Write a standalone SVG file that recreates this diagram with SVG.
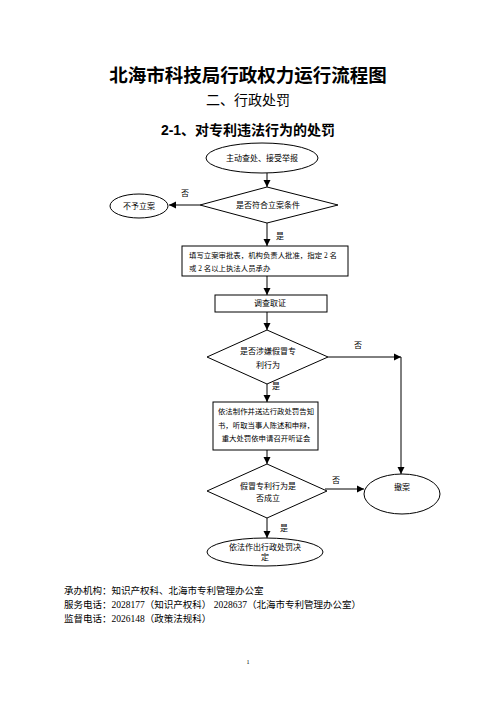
<svg xmlns="http://www.w3.org/2000/svg" width="496" height="702" viewBox="0 0 496 702">
<style>
.t{font-family:"Liberation Serif","Noto Sans CJK SC",serif;fill:#000}
.h{font-family:"Liberation Sans","Noto Sans CJK SC",sans-serif;font-weight:bold;fill:#000}
.s{font-size:8px}
.b{font-size:7.4px}
.f{font-size:9.5px}
.shape{fill:#fff;stroke:#000;stroke-width:1}
.ln{fill:none;stroke:#000;stroke-width:1}
</style>
<defs>
<marker id="ah" markerWidth="8" markerHeight="8" refX="7" refY="4" orient="auto" markerUnits="userSpaceOnUse">
<path d="M0,0.5 L7,4 L0,7.5 Z" fill="#000"/>
</marker>
</defs>
<rect width="496" height="702" fill="#fff"/>
<text class="h" x="248" y="82" font-size="18.5" text-anchor="middle">北海市科技局行政权力运行流程图</text>
<text class="t" x="248" y="105" font-size="14" text-anchor="middle">二、行政处罚</text>
<text class="h" x="248" y="135" font-size="14" text-anchor="middle">2-1、对专利违法行为的处罚</text>

<g id="connectors">
<line class="ln" x1="267" y1="173" x2="267" y2="187" marker-end="url(#ah)"/>
<line class="ln" x1="200" y1="205" x2="169" y2="205" marker-end="url(#ah)"/>
<line class="ln" x1="267" y1="223" x2="267" y2="246" marker-end="url(#ah)"/>
<line class="ln" x1="267" y1="276" x2="267" y2="295" marker-end="url(#ah)"/>
<line class="ln" x1="267" y1="312" x2="267" y2="330" marker-end="url(#ah)"/>
<line class="ln" x1="328" y1="357" x2="401" y2="357" marker-end="url(#ah)"/>
<line class="ln" x1="401" y1="357" x2="401" y2="474" marker-end="url(#ah)"/>
<line class="ln" x1="267" y1="384" x2="267" y2="402" marker-end="url(#ah)"/>
<line class="ln" x1="267" y1="450" x2="267" y2="464" marker-end="url(#ah)"/>
<line class="ln" x1="325" y1="489" x2="364" y2="489" marker-end="url(#ah)"/>
<line class="ln" x1="267" y1="518" x2="267" y2="538" marker-end="url(#ah)"/>
<text class="t s" x="181" y="196">否</text>
<text class="t s" x="276" y="239">是</text>
<text class="t s" x="354" y="348">否</text>
<text class="t s" x="272" y="389">是</text>
<text class="t s" x="332" y="483">否</text>
<text class="t s" x="280" y="531">是</text>
</g>

<g id="n1">
<ellipse class="shape" cx="262" cy="158" rx="56" ry="15"/>
<text class="t s" x="262" y="161" text-anchor="middle">主动查处、接受举报</text>
</g>
<g id="n2">
<polygon class="shape" points="267,187 338,205 267,223 200,205"/>
<text class="t s" x="268" y="208" text-anchor="middle">是否符合立案条件</text>
</g>
<g id="n3">
<ellipse class="shape" cx="139" cy="206" rx="29" ry="12"/>
<text class="t s" x="139" y="209" text-anchor="middle">不予立案</text>
</g>
<g id="n4">
<rect class="shape" x="182" y="246" width="166" height="30"/>
<text class="t b" x="189" y="258">填写立案审批表，机构负责人批准，指定 2 名</text>
<text class="t b" x="189" y="271">或 2 名以上执法人员承办</text>
</g>
<g id="n5">
<rect class="shape" x="215" y="295" width="112" height="17"/>
<text class="t s" x="270" y="306" text-anchor="middle">调查取证</text>
</g>
<g id="n6">
<polygon class="shape" points="267,330 328,357 267,384 207,357"/>
<text class="t s" x="268" y="354" text-anchor="middle">是否涉嫌假冒专</text>
<text class="t s" x="268" y="368" text-anchor="middle">利行为</text>
</g>
<g id="n7">
<rect class="shape" x="213" y="402" width="105" height="48"/>
<text class="t b" x="266" y="414" text-anchor="middle">依法制作并送达行政处罚告知</text>
<text class="t b" x="266" y="428" text-anchor="middle">书，听取当事人陈述和申辩，</text>
<text class="t b" x="266" y="441" text-anchor="middle">重大处罚依申请召开听证会</text>
</g>
<g id="n8">
<polygon class="shape" points="267,464 327,491 267,518 207,491"/>
<text class="t s" x="268" y="489" text-anchor="middle">假冒专利行为是</text>
<text class="t s" x="268" y="501" text-anchor="middle">否成立</text>
</g>
<g id="n9">
<ellipse class="shape" cx="402" cy="494" rx="38" ry="20"/>
<text class="t s" x="402" y="490" text-anchor="middle">撤案</text>
</g>
<g id="n10">
<ellipse class="shape" cx="265" cy="552" rx="58" ry="14"/>
<text class="t s" x="265" y="550" text-anchor="middle">依法作出行政处罚决</text>
<text class="t s" x="265" y="560" text-anchor="middle">定</text>
</g>

<text class="t f" x="64" y="594">承办机构：知识产权科、北海市专利管理办公室</text>
<text class="t f" x="64" y="608">服务电话：2028177（知识产权科） 2028637（北海市专利管理办公室）</text>
<text class="t f" x="64" y="622">监督电话：2026148（政策法规科）</text>
<text class="t" x="248" y="664" font-size="6" text-anchor="middle">1</text>
</svg>
